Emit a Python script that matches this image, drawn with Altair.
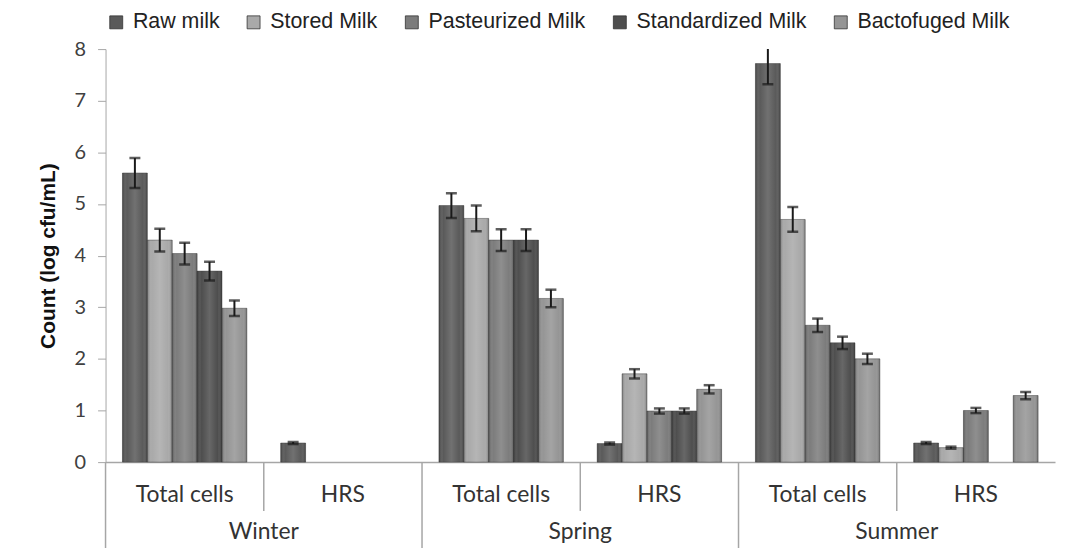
import altair as alt
import pandas as pd

series = ["Raw milk", "Stored Milk", "Pasteurized Milk", "Standardized Milk", "Bactofuged Milk"]
colors = ["#5a5a5a", "#a9a9a9", "#7c7c7c", "#4e4e4e", "#959595"]

seasons = ["Winter", "Winter", "Spring", "Spring", "Summer", "Summer"]
cats = ["Total cells", "HRS", "Total cells", "HRS", "Total cells", "HRS"]
groups = [f"{s}|{c}" for s, c in zip(seasons, cats)]

raw = [5.60, 0.37, 4.97, 0.36, 7.72, 0.37]
stored = [4.30, None, 4.72, 1.71, 4.70, 0.28]
pasteurized = [4.04, None, 4.30, 0.99, 2.65, 1.00]
standardized = [3.70, None, 4.30, 0.99, 2.31, None]
bactofuged = [2.98, None, 3.17, 1.41, 2.00, 1.29]

raw_err = [0.29, 0.02, 0.24, 0.02, 0.40, 0.02]
stored_err = [0.22, None, 0.25, 0.09, 0.24, 0.02]
pasteurized_err = [0.21, None, 0.21, 0.05, 0.13, 0.05]
standardized_err = [0.18, None, 0.21, 0.05, 0.12, None]
bactofuged_err = [0.15, None, 0.17, 0.08, 0.10, 0.07]

vals = [raw, stored, pasteurized, standardized, bactofuged]
errs = [raw_err, stored_err, pasteurized_err, standardized_err, bactofuged_err]

rows = []
for s, v, e in zip(series, vals, errs):
    for g, val, er in zip(groups, v, e):
        if val is None:
            continue
        rows.append({"group": g, "series": s, "value": val,
                     "lo": val - er, "hi": val + er})
df = pd.DataFrame(rows)

lab_df = pd.DataFrame({"group": groups, "cat": cats, "season": seasons})
season_df = lab_df[lab_df["cat"] == "Total cells"]
short_sep = lab_df[lab_df["cat"] == "HRS"]
long_sep = lab_df[lab_df["cat"] == "Total cells"]

W, H = 954, 415
xscale = alt.Scale(domain=groups, paddingInner=0, paddingOuter=0)
offscale = alt.Scale(domain=series, paddingInner=0, paddingOuter=0.68)
yscale = alt.Scale(domain=[0, 8], nice=False)

base = alt.Chart(df)

bars = base.mark_bar(stroke="#3a3a3a", strokeWidth=0.8, strokeOpacity=0.6).encode(
    x=alt.X("group:N", scale=xscale, sort=groups,
            axis=alt.Axis(labels=False, ticks=False, title=None,
                          domainColor="#a6a6a6", domainWidth=1.5)),
    xOffset=alt.XOffset("series:N", scale=offscale, sort=series),
    y=alt.Y("value:Q", scale=yscale,
            axis=alt.Axis(values=[0, 1, 2, 3, 4, 5, 6, 7, 8], grid=False,
                          title="Count (log cfu/mL)", titleFont="Liberation Sans",
                          titleFontSize=21, titleFontWeight="bold", titleColor="#111111",
                          titlePadding=16,
                          labelFont="Lato", labelFontSize=20, labelColor="#404040",
                          labelPadding=12, tickSize=8, tickColor="#a6a6a6",
                          domainColor="#a6a6a6")),
    color=alt.Color("series:N", scale=alt.Scale(domain=series, range=colors),
                    sort=series,
                    legend=alt.Legend(title=None, orient="none", direction="horizontal",
                                      legendX=0, legendY=-38,
                                      symbolType="square", symbolSize=169,
                                      symbolStrokeColor="#333333", symbolStrokeWidth=0.8,
                                      labelFont="Liberation Sans", labelFontSize=21.5,
                                      labelColor="#222222", labelOffset=6,
                                      labelLimit=400, columnPadding=23)),
)

shade = base.mark_bar(
    color=alt.Gradient(
        gradient="linear", x1=0, x2=1, y1=0, y2=0,
        stops=[
            alt.GradientStop(color="rgba(0,0,0,0.28)", offset=0),
            alt.GradientStop(color="rgba(255,255,255,0.0)", offset=0.18),
            alt.GradientStop(color="rgba(255,255,255,0.14)", offset=0.5),
            alt.GradientStop(color="rgba(255,255,255,0.0)", offset=0.82),
            alt.GradientStop(color="rgba(0,0,0,0.28)", offset=1),
        ],
    )
).encode(
    x=alt.X("group:N", scale=xscale, sort=groups),
    xOffset=alt.XOffset("series:N", scale=offscale, sort=series),
    y=alt.Y("value:Q", scale=yscale),
)

err_rule = base.mark_rule(color="#1a1a1a", strokeWidth=2, clip=True).encode(
    x=alt.X("group:N", scale=xscale, sort=groups),
    xOffset=alt.XOffset("series:N", scale=offscale, sort=series),
    y=alt.Y("lo:Q", scale=yscale),
    y2="hi:Q",
)
err_hi = base.mark_tick(color="#1a1a1a", thickness=2.5, size=11, clip=True).encode(
    x=alt.X("group:N", scale=xscale, sort=groups),
    xOffset=alt.XOffset("series:N", scale=offscale, sort=series),
    y=alt.Y("hi:Q", scale=yscale),
)
err_lo = base.mark_tick(color="#1a1a1a", thickness=2.5, size=11, clip=True).encode(
    x=alt.X("group:N", scale=xscale, sort=groups),
    xOffset=alt.XOffset("series:N", scale=offscale, sort=series),
    y=alt.Y("lo:Q", scale=yscale),
)

cat_text = alt.Chart(lab_df).mark_text(font="Lato", fontSize=23, color="#333333",
                                       baseline="middle").encode(
    x=alt.X("group:N", scale=xscale, sort=groups),
    y=alt.value(H + 33),
    text="cat:N",
)
season_text = alt.Chart(season_df).mark_text(font="Lato", fontSize=23, color="#333333",
                                              baseline="middle").encode(
    x=alt.X("group:N", scale=xscale, sort=groups, bandPosition=1),
    y=alt.value(H + 70),
    text="season:N",
)
short_rules = alt.Chart(short_sep).mark_rule(color="#a6a6a6", strokeWidth=1.5).encode(
    x=alt.X("group:N", scale=xscale, sort=groups, bandPosition=0),
    y=alt.value(H),
    y2=alt.value(H + 49),
)
long_rules = alt.Chart(long_sep).mark_rule(color="#a6a6a6", strokeWidth=1.5).encode(
    x=alt.X("group:N", scale=xscale, sort=groups, bandPosition=0),
    y=alt.value(H),
    y2=alt.value(H + 120),
)

chart = alt.layer(
    bars, shade, err_rule, err_hi, err_lo, short_rules, long_rules, cat_text, season_text
).properties(
    width=W, height=H,
    autosize=alt.AutoSizeParams(type="none"),
    padding={"left": 98, "top": 40, "right": 2, "bottom": 85},
    background="white",
).configure_view(stroke=None)

chart.save("out.html", embed_options={"renderer": "svg", "actions": False})
